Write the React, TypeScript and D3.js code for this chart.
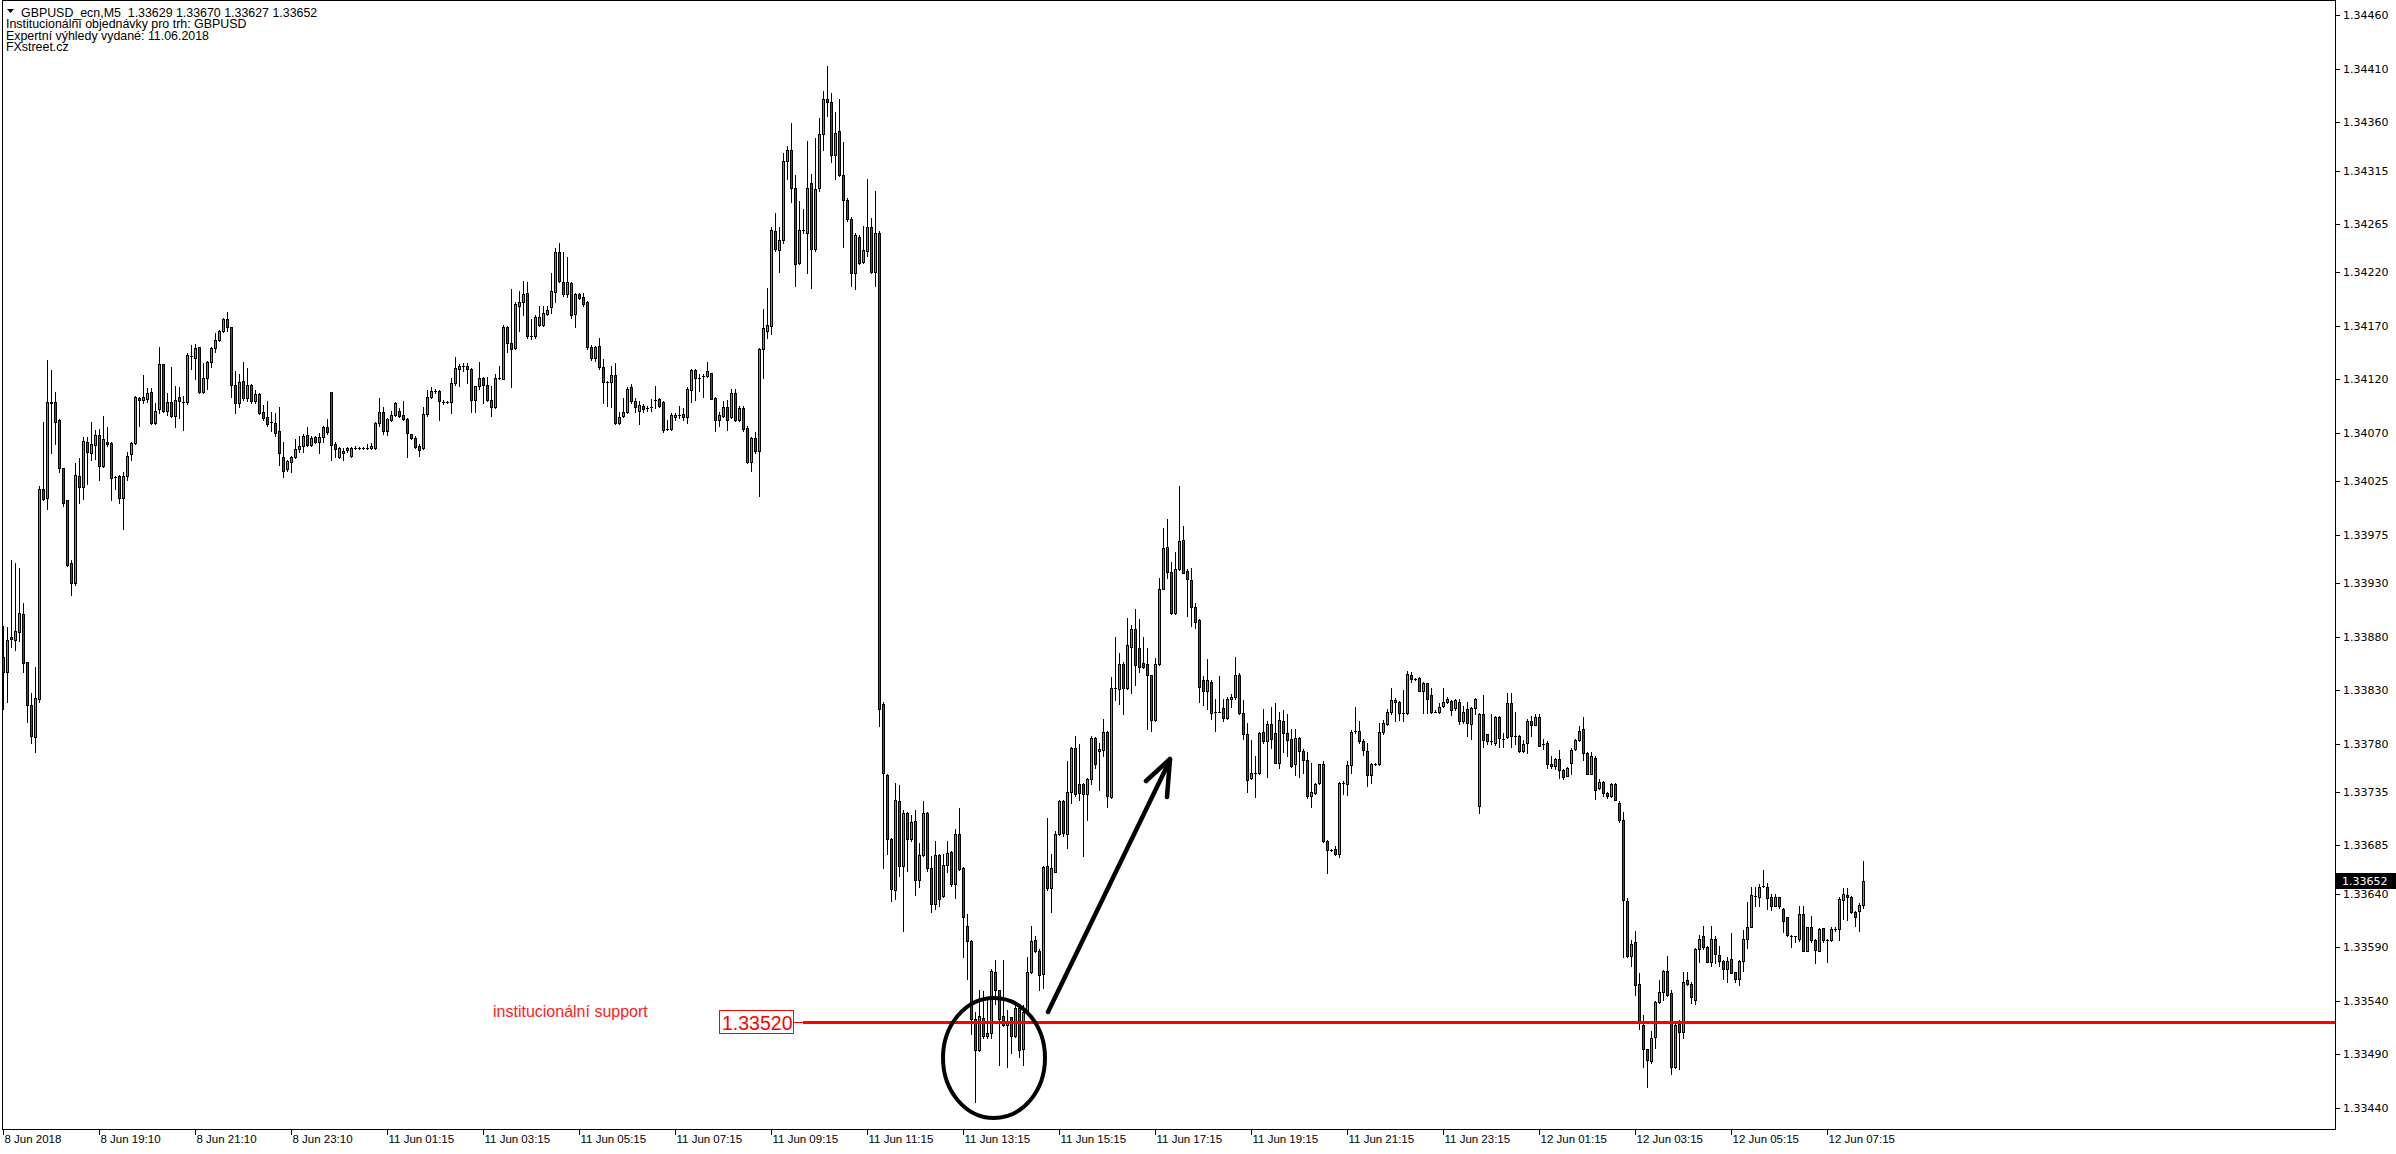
import React from 'react';
import * as d3 from 'd3';

// GBPUSD M5 candles, prices expressed in points (0.00001) above 1.33000
const BASE_PRICE = 1.33;
const POINT = 0.00001;

const opens = [
  861,847,880,877,884,901,856,816,786,822,
  1018,1009,1099,1099,1082,1037,1007,949,930,1030,
  1020,1062,1051,1059,1068,1039,1062,1061,1029,1030,
  1009,1030,1050,1061,1103,1101,1102,1108,1079,1092,
  1134,1091,1099,1086,1104,1099,1099,1142,1140,1150,
  1108,1121,1136,1149,1157,1165,1176,1169,1115,1098,
  1119,1103,1115,1100,1106,1090,1085,1080,1079,1072,
  1048,1036,1043,1048,1055,1058,1068,1059,1066,1062,
  1066,1076,1108,1060,1048,1053,1054,1049,1056,1056,
  1056,1056,1056,1056,1079,1090,1072,1082,1087,1091,
  1087,1083,1069,1065,1058,1056,1088,1104,1109,1109,
  1099,1099,1099,1117,1130,1133,1133,1130,1101,1114,
  1121,1115,1101,1094,1121,1120,1169,1154,1149,1189,
  1192,1201,1161,1161,1171,1171,1181,1188,1202,1239,
  1211,1200,1210,1181,1200,1197,1192,1150,1140,1151,
  1132,1118,1118,1124,1079,1086,1090,1113,1100,1091,
  1095,1093,1094,1101,1102,1099,1074,1074,1085,1087,
  1088,1085,1110,1129,1121,1123,1123,1126,1103,1082,
  1086,1094,1085,1107,1082,1093,1075,1043,1065,1053,
  1148,1165,1170,1259,1241,1250,1324,1334,1299,1229,
  1260,1257,1303,1242,1299,1349,1382,1379,1330,1352,
  1311,1288,1270,1219,1253,1230,1240,1262,1220,1257,
  817,751,691,643,726,666,715,691,708,653,
  676,715,664,630,676,638,667,679,649,696,
  664,610,596,523,494,524,507,510,567,550,
  526,517,525,507,533,495,529,567,597,586,
  565,666,645,660,696,726,696,735,776,742,
  742,733,747,785,773,774,791,730,832,831,
  854,832,870,887,869,855,854,844,802,854,
  924,964,940,902,943,970,941,933,908,895,
  839,829,838,810,810,813,804,822,824,844,
  809,789,748,753,753,791,782,798,790,762,
  801,790,784,761,785,773,765,731,734,743,
  761,689,681,682,677,743,742,760,792,792,
  782,773,751,761,761,791,798,810,821,819,
  809,809,844,840,841,829,837,825,810,810,
  815,819,820,813,819,801,812,798,813,722,
  808,789,782,781,805,784,786,818,787,787,
  773,781,801,797,805,780,781,761,759,766,
  755,750,762,775,783,794,771,752,767,739,
  744,734,731,742,725,709,633,582,595,556,
  517,495,484,506,539,548,568,547,478,518,
  511,559,556,541,588,600,590,576,598,583,
  577,570,579,567,560,577,598,609,638,637,
  647,646,637,628,637,626,618,600,600,598,
  621,586,609,597,586,608,597,597,607,607,
  634,639,637,623,624,629,
];

const highs = [
  890,889,951,949,944,911,856,827,852,1021,
  1080,1138,1129,1108,1083,1037,1007,951,1042,1047,
  1066,1066,1080,1073,1074,1086,1076,1062,1030,1031,
  1034,1052,1062,1105,1104,1124,1112,1112,1098,1150,
  1134,1107,1132,1114,1113,1105,1145,1152,1153,1150,
  1135,1137,1150,1163,1166,1177,1183,1169,1128,1125,
  1136,1131,1116,1110,1107,1096,1100,1090,1089,1094,
  1062,1045,1049,1064,1067,1069,1076,1067,1067,1070,
  1077,1083,1108,1062,1057,1056,1057,1057,1058,1057,
  1057,1060,1061,1080,1103,1094,1084,1091,1099,1093,
  1100,1084,1069,1067,1060,1094,1110,1113,1111,1110,
  1101,1100,1121,1141,1134,1135,1135,1131,1114,1136,
  1122,1122,1114,1125,1133,1171,1170,1204,1192,1203,
  1212,1211,1176,1180,1189,1189,1189,1219,1243,1247,
  1239,1234,1211,1201,1201,1201,1193,1152,1151,1159,
  1139,1119,1133,1135,1090,1103,1113,1116,1103,1100,
  1097,1095,1102,1114,1103,1100,1082,1089,1089,1095,
  1093,1113,1130,1130,1125,1125,1136,1126,1104,1090,
  1100,1101,1111,1111,1095,1095,1077,1066,1071,1149,
  1186,1205,1262,1275,1262,1331,1338,1359,1311,1287,
  1279,1343,1312,1345,1364,1389,1413,1387,1370,1382,
  1342,1289,1272,1257,1255,1263,1307,1271,1296,1259,
  819,752,692,743,741,718,716,713,718,687,
  726,716,675,689,677,677,689,680,700,720,
  665,621,597,529,550,549,542,570,578,550,
  578,531,525,537,535,536,581,610,600,588,
  666,711,677,698,727,727,764,777,787,780,
  743,748,787,786,781,803,792,842,880,865,
  856,897,891,906,896,880,869,844,860,935,
  981,990,950,959,1021,983,943,944,911,896,
  843,859,839,822,843,822,824,826,861,846,
  821,799,783,768,791,812,801,814,818,810,
  811,808,794,794,786,775,772,762,743,761,
  764,690,682,684,744,745,764,793,814,801,
  784,781,762,762,799,802,812,832,823,820,
  830,848,847,841,842,838,837,832,811,818,
  832,824,821,822,822,815,819,814,823,809,
  825,789,808,806,806,790,827,827,810,788,
  783,803,806,808,808,784,782,768,767,774,
  756,758,776,784,796,805,772,772,768,747,
  745,735,743,743,726,716,636,597,605,566,
  527,495,512,540,559,569,582,550,518,522,
  567,567,557,589,601,610,591,610,600,591,
  578,581,603,567,578,606,632,646,646,649,
  662,650,640,640,637,627,618,601,600,628,
  628,609,619,598,608,608,598,609,609,637,
  645,645,638,624,631,670,
];

const lows = [
  812,819,870,867,876,847,800,781,772,819,
  1007,999,1051,1060,1034,1002,946,919,928,1005,
  1008,1022,1045,1046,1026,1038,1058,1007,1018,1005,
  980,1026,1045,1060,1077,1098,1099,1078,1078,1089,
  1090,1087,1085,1076,1084,1073,1097,1130,1120,1107,
  1107,1111,1132,1146,1156,1164,1165,1104,1089,1094,
  1101,1100,1098,1098,1088,1082,1077,1072,1067,1040,
  1029,1035,1034,1047,1052,1052,1058,1058,1061,1051,
  1062,1069,1045,1048,1047,1045,1052,1048,1055,1055,
  1055,1055,1055,1055,1077,1069,1068,1081,1086,1085,
  1082,1048,1064,1056,1049,1055,1086,1103,1107,1082,
  1097,1098,1089,1115,1114,1128,1117,1090,1090,1111,
  1098,1100,1086,1093,1120,1120,1146,1113,1148,1165,
  1180,1159,1158,1159,1170,1170,1180,1182,1192,1211,
  1198,1197,1177,1169,1195,1189,1148,1138,1137,1130,
  1098,1095,1094,1078,1078,1085,1089,1098,1090,1078,
  1090,1091,1091,1093,1094,1071,1073,1073,1082,1084,
  1082,1079,1099,1101,1109,1104,1122,1102,1072,1077,
  1085,1073,1084,1081,1081,1072,1042,1035,1051,1011,
  1121,1159,1162,1240,1220,1247,1307,1286,1207,1228,
  1257,1219,1205,1240,1296,1334,1366,1323,1307,1310,
  1244,1268,1207,1204,1228,1229,1235,1219,1207,796,
  664,677,633,635,656,605,661,689,639,646,
  675,661,623,626,628,637,660,647,636,662,
  581,560,509,445,493,505,505,505,537,480,
  516,478,491,506,487,480,528,566,585,550,
  552,643,623,660,695,694,683,725,731,727,
  675,709,742,757,737,768,721,729,821,817,
  808,831,827,835,847,851,794,792,801,853,
  924,935,901,901,942,939,899,890,888,819,
  816,812,803,792,810,801,803,814,822,808,
  784,735,747,730,752,781,749,776,762,757,
  772,768,758,751,749,753,729,721,733,742,
  688,659,680,676,674,733,732,753,790,781,
  769,740,743,760,760,789,797,808,801,802,
  801,808,838,839,829,809,809,809,810,809,
  814,818,807,811,798,799,787,784,808,715,
  777,780,780,779,777,777,785,777,780,772,
  772,771,787,797,778,775,757,757,756,748,
  747,750,752,774,782,765,752,752,728,738,
  731,729,730,727,707,581,581,572,545,514,
  478,459,482,496,538,541,544,472,477,476,
  505,555,538,537,576,588,576,572,575,572,
  560,557,566,557,555,568,589,609,628,628,
  646,626,625,628,627,604,600,590,595,596,
  586,586,595,575,586,595,576,596,605,597,
  616,615,622,610,605,627,
];

const closes = [
  847,877,878,885,902,855,816,787,823,1018,
  1008,1099,1098,1080,1037,1005,947,930,1031,1020,
  1063,1052,1060,1068,1039,1064,1060,1028,1029,1009,
  1030,1049,1061,1104,1101,1104,1107,1079,1091,1134,
  1091,1099,1086,1101,1100,1099,1143,1142,1149,1108,
  1121,1136,1149,1157,1165,1176,1169,1115,1098,1118,
  1103,1115,1100,1106,1089,1084,1078,1080,1070,1051,
  1035,1044,1048,1055,1058,1067,1059,1065,1062,1066,
  1076,1071,1059,1055,1056,1051,1056,1056,1056,1056,
  1056,1056,1058,1079,1090,1072,1083,1087,1098,1086,
  1083,1070,1065,1057,1054,1088,1104,1109,1109,1100,
  1099,1099,1117,1131,1133,1133,1130,1101,1114,1121,
  1115,1101,1094,1121,1121,1169,1154,1148,1190,1192,
  1200,1161,1161,1178,1178,1182,1185,1203,1239,1212,
  1200,1211,1180,1200,1196,1190,1150,1140,1150,1132,
  1118,1118,1124,1079,1085,1090,1111,1100,1094,1096,
  1092,1093,1094,1101,1095,1073,1074,1087,1087,1087,
  1085,1111,1129,1121,1121,1123,1128,1102,1082,1087,
  1094,1082,1107,1082,1093,1074,1043,1065,1053,1148,
  1168,1171,1260,1242,1250,1324,1334,1299,1228,1260,
  1260,1299,1242,1298,1349,1382,1379,1330,1350,1311,
  1288,1270,1219,1255,1229,1241,1262,1220,1257,812,
  753,691,644,727,666,715,691,707,653,676,
  715,664,630,676,635,667,678,649,696,663,
  618,596,523,494,526,507,510,568,550,523,
  517,521,507,533,494,529,567,596,586,564,
  665,645,664,696,726,697,735,776,733,734,
  733,747,785,761,775,791,731,832,832,854,
  832,872,887,853,852,852,844,802,854,924,
  963,940,902,943,969,939,934,908,894,833,
  829,839,809,810,810,804,822,824,844,809,
  789,746,753,753,790,782,798,784,762,802,
  790,783,759,785,773,765,731,735,742,761,
  689,681,681,677,743,743,760,791,792,782,
  774,751,761,761,791,799,810,821,819,809,
  809,845,840,840,829,837,822,810,810,814,
  819,822,811,821,801,810,799,813,822,808,
  783,782,782,805,785,784,818,787,787,773,
  780,801,797,805,778,780,761,759,766,755,
  749,757,774,783,792,771,752,768,737,744,
  734,731,742,727,709,634,582,593,555,521,
  495,485,505,539,548,568,545,478,517,511,
  557,556,543,588,598,590,576,598,584,577,
  570,577,566,560,577,598,609,639,638,646,
  647,636,628,637,628,614,601,600,600,621,
  586,609,597,587,607,597,597,607,607,635,
  640,637,623,618,629,652,
];

const timeLabels = [
  '8 Jun 2018', '8 Jun 19:10', '8 Jun 21:10', '8 Jun 23:10',
  '11 Jun 01:15', '11 Jun 03:15', '11 Jun 05:15', '11 Jun 07:15',
  '11 Jun 09:15', '11 Jun 11:15', '11 Jun 13:15', '11 Jun 15:15',
  '11 Jun 17:15', '11 Jun 19:15', '11 Jun 21:15', '11 Jun 23:15',
  '12 Jun 01:15', '12 Jun 03:15', '12 Jun 05:15', '12 Jun 07:15',
];
const barsPerTimeLabel = 24;

const priceTicks = [
  '1.34460', '1.34410', '1.34360', '1.34315', '1.34265', '1.34220',
  '1.34170', '1.34120', '1.34070', '1.34025', '1.33975', '1.33930',
  '1.33880', '1.33830', '1.33780', '1.33735', '1.33685', '1.33640',
  '1.33590', '1.33540', '1.33490', '1.33440',
];

const headerLines = [
  'GBPUSD_ecn,M5\u00a0\u00a01.33629 1.33670 1.33627 1.33652',
  'Institucionální objednávky pro trh: GBPUSD',
  'Expertní výhledy vydané: 11.06.2018',
  'FXstreet.cz',
];

const supportLevel = 1.3352;
const supportText = 'institucionální support';
const lastPrice = 1.33652;

const BULL = '#2ec22e';
const BEAR = '#e40c0c';
const SANS = '"Liberation Sans", Arial, sans-serif';
const AXIS_FONT = '"DejaVu Sans", Verdana, sans-serif';

export default function App() {
  const W = 2396;
  const H = 1154;
  const frameL = 2.5, frameT = 0.5, frameR = 2335.5, frameB = 1129.5;

  const n = opens.length;
  const x = d3.scaleLinear().domain([0, n - 1]).range([3.5, 3.5 + 4 * (n - 1)]);
  const y = d3.scaleLinear().domain([1.3344, 1.3446]).range([1107.8, 15.3]);
  const py = (v: number) => Math.round(y(BASE_PRICE + v * POINT));

  const candles = d3.range(n).map((i) => {
    const o = opens[i], c = closes[i];
    const hi = Math.max(highs[i], o, c), lo = Math.min(lows[i], o, c);
    const cx = x(i);
    const yo = py(o), yc = py(c), yh = py(hi), yl = py(lo);
    const top = Math.min(yo, yc), bot = Math.max(yo, yc);
    return (
      <g key={i}>
        <line x1={cx} x2={cx} y1={yh} y2={yl + 1} stroke="#000" strokeWidth={1} />
        {top === bot ? (
          <line x1={cx - 1.5} x2={cx + 1.5} y1={top + 0.5} y2={top + 0.5} stroke="#000" strokeWidth={1} />
        ) : (
          <rect x={cx - 1} y={top + 0.5} width={2} height={bot - top}
            fill={c > o ? BULL : BEAR} stroke="#000" strokeWidth={1} />
        )}
      </g>
    );
  });

  const ySup = Math.round(y(supportLevel)) + 0.5;
  const yLast = Math.round(y(lastPrice));

  return (
    <svg width={W} height={H} viewBox={`0 0 ${W} ${H}`}
      style={{ position: 'absolute', left: 0, top: 0, display: 'block', background: '#fff' }}>
      <rect x={0} y={0} width={W} height={H} fill="#fff" />
      <g shapeRendering="crispEdges">{candles}</g>

      {/* support line */}
      <line x1={803} x2={frameR} y1={ySup} y2={ySup} stroke="#ff0000" strokeWidth={3} shapeRendering="crispEdges" />
      <line x1={793} x2={803} y1={ySup} y2={ySup} stroke="#ff0000" strokeWidth={1} shapeRendering="crispEdges" />
      <rect x={719.5} y={1010.5} width={74} height={23} fill="#fff" stroke="#ff0000" strokeWidth={1} shapeRendering="crispEdges" />
      <text x={722} y={1030} fontFamily={SANS} fontSize={19.5} fill="#ff0000">{supportLevel.toFixed(5)}</text>
      <text x={493} y={1017} fontFamily={SANS} fontSize={16} fill="#ff2020">{supportText}</text>

      {/* hand drawn annotations */}
      <ellipse cx={994} cy={1058} rx={51} ry={60} fill="none" stroke="#000" strokeWidth={4} />
      <path d="M1048,1012 L1170,760" fill="none" stroke="#000" strokeWidth={4.5} strokeLinecap="round" />
      <path d="M1146,781 L1170,759 L1167,797" fill="none" stroke="#000" strokeWidth={4.5} strokeLinecap="round" strokeLinejoin="round" />

      {/* frame */}
      <rect x={frameL} y={frameT} width={frameR - frameL} height={frameB - frameT} fill="none" stroke="#000" strokeWidth={1} shapeRendering="crispEdges" />

      {/* price axis */}
      {priceTicks.map((s) => {
        const yy = Math.round(y(+s)) + 0.5;
        return (
          <g key={s}>
            <line x1={frameR} x2={frameR + 4} y1={yy} y2={yy} stroke="#000" shapeRendering="crispEdges" />
            <text x={2343} y={yy} dominantBaseline="central" fontFamily={AXIS_FONT} fontSize={11} fill="#000">{s}</text>
          </g>
        );
      })}
      <rect x={2336} y={yLast - 8} width={60} height={16} fill="#000" />
      <text x={2342} y={yLast} dominantBaseline="central" fontFamily={AXIS_FONT} fontSize={11} fill="#fff">{lastPrice.toFixed(5)}</text>

      {/* time axis */}
      {timeLabels.map((s, k) => {
        const cx = x(k * barsPerTimeLabel);
        return (
          <g key={s}>
            <line x1={cx} x2={cx} y1={frameB} y2={frameB + 5} stroke="#000" shapeRendering="crispEdges" />
            <text x={cx + 1} y={1143} fontFamily={SANS} fontSize={11.5} fill="#000">{s}</text>
          </g>
        );
      })}

      {/* header */}
      <path d="M7,9 L14,9 L10.5,13 Z" fill="#000" />
      {headerLines.map((s, k) => (
        <text key={k} x={k === 0 ? 21 : 6} y={17 + k * 11.3} fontFamily={SANS} fontSize={12.4} fill="#000">{s}</text>
      ))}
    </svg>
  );
}
